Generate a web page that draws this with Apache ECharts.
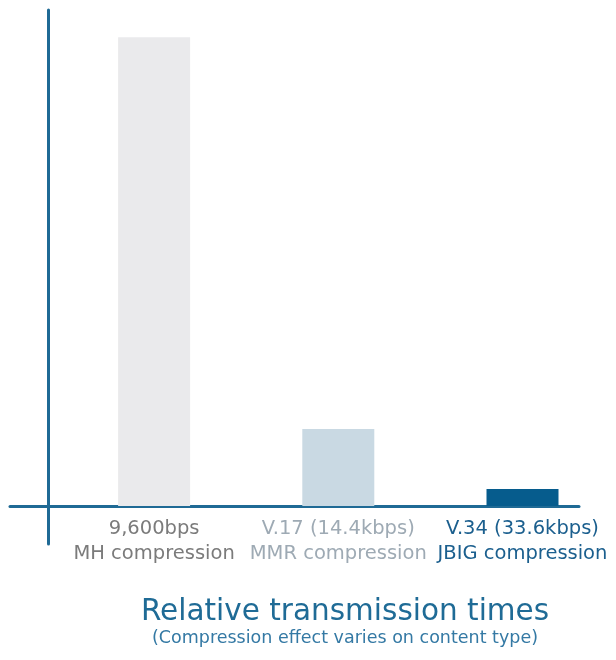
<!DOCTYPE html>
<html><head><meta charset="utf-8">
<script src="https://cdn.jsdelivr.net/npm/echarts@6/dist/echarts.min.js"></script>
<style>html,body{margin:0;padding:0;background:#fff}#c{width:616px;height:660px}</style>
</head><body><div id="c"></div>
<script>
const speeds = ['9,600bps', 'V.17 (14.4kbps)', 'V.34 (33.6kbps)'];
const methods = ['MH compression', 'MMR compression', 'JBIG compression'];
const times = [100, 16.4, 3.6];
const barColors = ['#eaeaec', '#c9d9e3', '#065c8d'];
const labelColors = ['#7b7b7b', '#9eaab4', '#1b5f8e'];
const titleText = 'Relative transmission times';
const subText = '(Compression effect varies on content type)';

const FONT = "'DejaVu Sans', Verdana, sans-serif";
const AXIS = '#1f6a95';
const rich = {};
labelColors.forEach((c, i) => { rich['s' + i] = { color: c, fontSize: 19.5, lineHeight: 25, fontFamily: FONT }; });

const chart = echarts.init(document.getElementById('c'));
chart.setOption({
  animation: false,
  backgroundColor: '#ffffff',
  title: {
    text: titleText,
    subtext: subText,
    left: 340,
    top: 591,
    textAlign: 'center',
    itemGap: 1,
    textStyle: { fontFamily: FONT, fontSize: 29.5, lineHeight: 32, fontWeight: 'normal', color: '#1f6b96' },
    subtextStyle: { fontFamily: FONT, fontSize: 17.5, lineHeight: 18, color: '#3479a4' }
  },
  grid: [
    { left: 62, right: 1.4, top: 10, bottom: 154 },
    { left: 10, right: 37, top: 10, bottom: 116 }
  ],
  xAxis: [
    {
      type: 'category', gridIndex: 0, data: speeds,
      axisLine: { show: false }, axisTick: { show: false }, splitLine: { show: false },
      axisLabel: {
        interval: 0, hideOverlap: false, margin: 10,
        formatter: (v, i) => `{s${i}|${speeds[i]}}\n{s${i}|${methods[i]}}`,
        rich: rich
      }
    },
    {
      type: 'value', gridIndex: 1, min: -38, max: 531,
      axisLine: { show: true, onZero: true, lineStyle: { color: AXIS, width: 3 } },
      axisTick: { show: false }, axisLabel: { show: false }, splitLine: { show: false }
    }
  ],
  yAxis: [
    {
      type: 'value', gridIndex: 0, min: 0, max: 105.8,
      axisLine: { show: false }, axisTick: { show: false }, axisLabel: { show: false }, splitLine: { show: false }
    },
    {
      type: 'value', gridIndex: 1, min: -8.1, max: 105.8,
      axisLine: { show: true, onZero: true, lineStyle: { color: AXIS, width: 3 } },
      axisTick: { show: false }, axisLabel: { show: false }, splitLine: { show: false }
    }
  ],
  series: [{
    type: 'bar', xAxisIndex: 0, yAxisIndex: 0, barWidth: 72,
    data: times.map((v, i) => ({ value: v, itemStyle: { color: barColors[i] } }))
  }]
});
</script></body></html>
